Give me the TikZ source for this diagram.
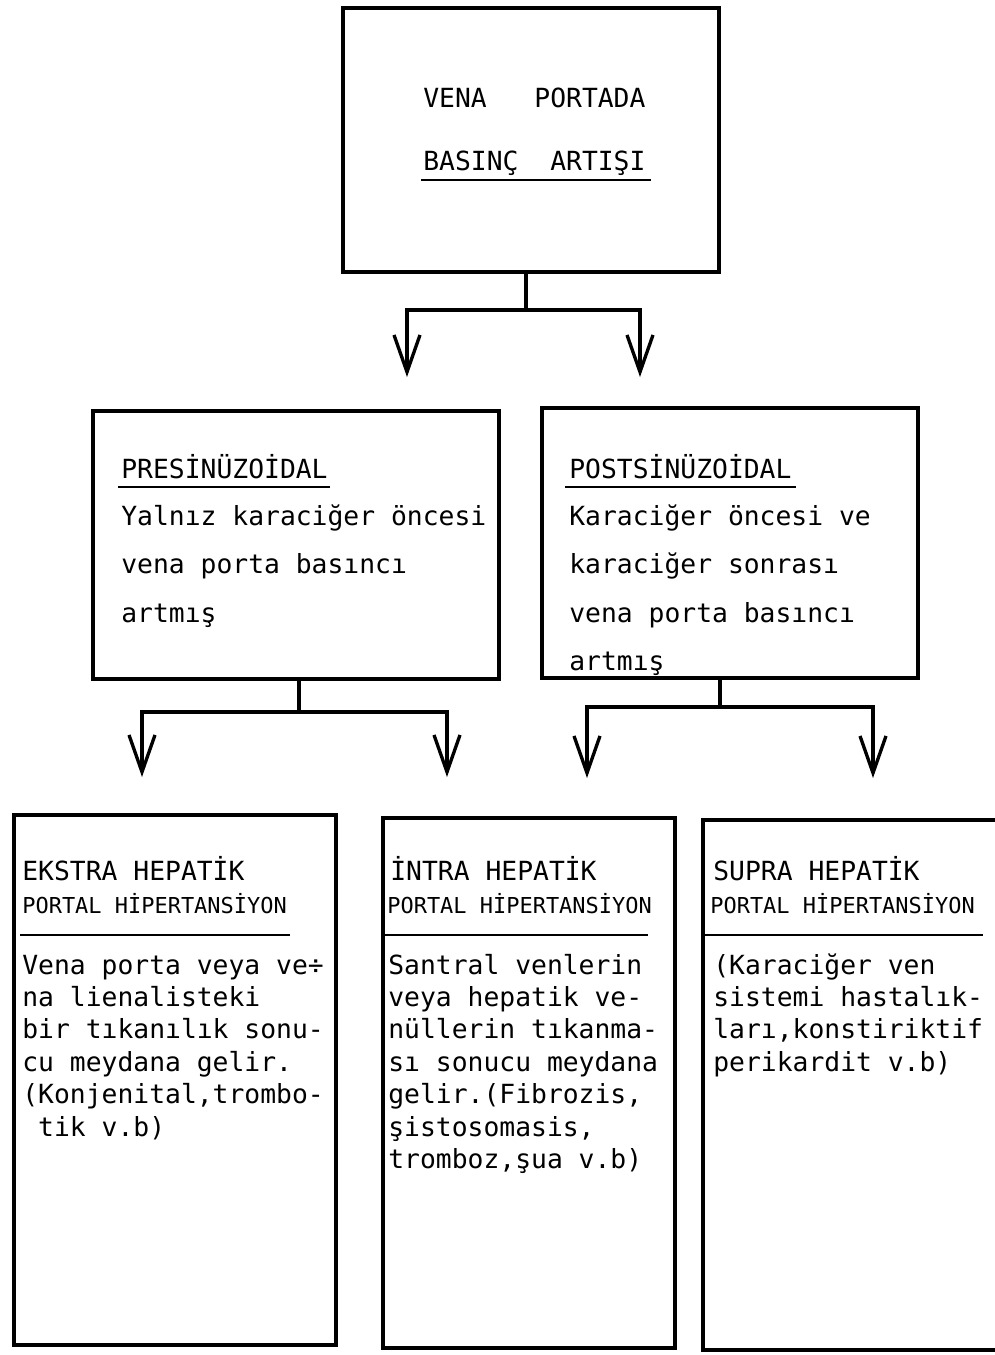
\documentclass[tikz,border=0pt]{standalone}
\usepackage{fontspec}
\setmonofont{DejaVu Sans Mono}
\usetikzlibrary{arrows.meta, positioning, fit}

\begin{document}
\begin{tikzpicture}[x=0.02cm, y=-0.02cm,
    box/.style={draw, line width=1.9pt, inner sep=0pt},
    wire/.style={line width=1.9pt},
    arr/.style={wire, -{Straight Barb[length=7.4mm, width=5.2mm]}},
    txt/.style={font=\ttfamily\fontsize{15}{18}\selectfont, anchor=base west, inner sep=0pt},
    sub/.style={font=\ttfamily\fontsize{12.5}{15}\selectfont, anchor=base west, inner sep=0pt},
    rule/.style={line width=1.4pt}]
    \useasboundingbox (0,0) rectangle (994,1355);

    % top box
    \node[box, fit={(343,8) (719,272)}] (vp) {};
    \node[txt] (vp1) at (423,108) {VENA~~~PORTADA};
    \node[txt] (vp2) at (423,170) {BASINÇ~~ARTIŞI};
    \draw[rule] (421,180) -- (651,180);

    % second row
    \node[box, fit={(93,411) (499,679)}] (pre) {};
    \node[txt] (pre0) at (121,478) {PRESİNÜZOİDAL};
    \draw[rule] (118,487) -- (330,487);
    \foreach \t [count=\i] in {Yalnız karaciğer öncesi, vena porta basıncı, artmış}
        \node[txt] (pre\i) at (121,{525+48.5*(\i-1)}) {\t};

    \node[box, fit={(542,408) (918,678)}] (post) {};
    \node[txt] (post0) at (569,478) {POSTSİNÜZOİDAL};
    \draw[rule] (565,487) -- (796,487);
    \foreach \t [count=\i] in {Karaciğer öncesi ve, karaciğer sonrası, vena porta basıncı, artmış}
        \node[txt] (post\i) at (569,{525+48.5*(\i-1)}) {\t};

    % third row
    \node[box, fit={(14,815) (336,1345)}] (ek) {};
    \node[txt] (ekh) at (22,880) {EKSTRA HEPATİK};
    \node[sub] (eks) at (22,913) {PORTAL HİPERTANSİYON};
    \draw[rule] (20,935) -- (290,935);
    \foreach \t [count=\i] in {Vena porta veya ve÷, na lienalisteki, bir tıkanılık sonu-,
        cu meydana gelir., {(Konjenital,trombo-}, ~tik v.b)}
        \node[txt] (ek\i) at (22,{974+32.4*(\i-1)}) {\t};

    \node[box, fit={(383,818) (675,1348)}] (in) {};
    \node[txt] (inh) at (390,880) {İNTRA HEPATİK};
    \node[sub] (ins) at (387,913) {PORTAL HİPERTANSİYON};
    \draw[rule] (384,935) -- (648,935);
    \foreach \t [count=\i] in {Santral venlerin, veya hepatik ve-, nüllerin tıkanma-,
        sı sonucu meydana, {gelir.(Fibrozis,}, {şistosomasis,}, {tromboz,şua v.b)}}
        \node[txt] (in\i) at (388,{974+32.4*(\i-1)}) {\t};

    \node[box, fit={(703,820) (998,1350)}] (su) {};
    \node[txt] (suh) at (713,880) {SUPRA HEPATİK};
    \node[sub] (sus) at (710,913) {PORTAL HİPERTANSİYON};
    \draw[rule] (705,935) -- (983,935);
    \foreach \t [count=\i] in {{(Karaciğer ven}, sistemi hastalık-, {ları,konstiriktif}, {perikardit v.b)}}
        \node[txt] (su\i) at (713,{974+32.4*(\i-1)}) {\t};

    % connectors
    \coordinate (j1) at (526,310);
    \coordinate (a1) at (407,377);
    \coordinate (a2) at (640,377);
    \draw[wire] (vp.south -| j1) -- (j1);
    \draw[arr] (j1) -| (a1);
    \draw[arr] (j1) -| (a2);

    \coordinate (j2) at (299,712);
    \coordinate (b1) at (142,777);
    \coordinate (b2) at (447,777);
    \draw[wire] (pre.south -| j2) -- (j2);
    \draw[arr] (j2) -| (b1);
    \draw[arr] (j2) -| (b2);

    \coordinate (j3) at (720,707);
    \coordinate (c1) at (587,778);
    \coordinate (c2) at (873,778);
    \draw[wire] (post.south -| j3) -- (j3);
    \draw[arr] (j3) -| (c1);
    \draw[arr] (j3) -| (c2);
\end{tikzpicture}
\end{document}
